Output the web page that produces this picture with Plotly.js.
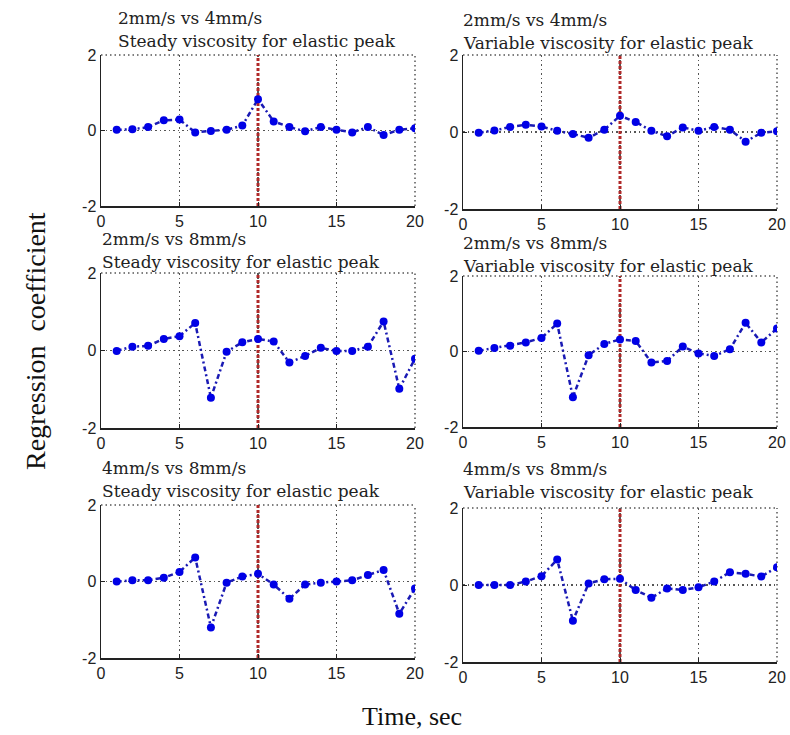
<!DOCTYPE html>
<html>
<head>
<meta charset="utf-8">
<script src="https://cdn.plot.ly/plotly-3.0.1.min.js"></script>
<style>html,body{margin:0;padding:0;background:#fff;}#chart{width:790px;height:735px;}</style>
</head>
<body>
<div id="chart"></div>
<script>
const time = [1,2,3,4,5,6,7,8,9,10,11,12,13,14,15,16,17,18,19,20];
const steady_2v4   = [0.02,0.03,0.09,0.27,0.29,-0.05,-0.01,0.02,0.13,0.83,0.24,0.09,-0.02,0.09,0.02,-0.05,0.09,-0.12,0.02,0.06];
const variable_2v4 = [-0.02,0.04,0.13,0.19,0.14,0.03,-0.05,-0.15,0.06,0.42,0.26,0.03,-0.11,0.12,0.03,0.13,0.06,-0.25,-0.02,0.02];
const steady_2v8   = [-0.01,0.10,0.12,0.30,0.37,0.71,-1.22,-0.03,0.21,0.30,0.23,-0.31,-0.14,0.07,-0.01,-0.01,0.10,0.75,-0.99,-0.21];
const variable_2v8 = [0.02,0.09,0.15,0.24,0.36,0.74,-1.21,-0.10,0.20,0.32,0.28,-0.29,-0.25,0.13,-0.05,-0.12,0.06,0.76,0.24,0.61];
const steady_4v8   = [0.00,0.03,0.03,0.10,0.25,0.63,-1.20,-0.03,0.13,0.20,-0.08,-0.45,-0.08,-0.03,0.00,0.03,0.17,0.30,-0.84,-0.18];
const variable_4v8 = [0.00,0.00,0.00,0.09,0.23,0.66,-0.93,0.04,0.15,0.16,-0.13,-0.33,-0.09,-0.13,-0.06,0.09,0.33,0.29,0.22,0.46];

const peakTime = [10,10];
const peakRange = [-2,2];

const xTicks = [0,5,10,15,20];
const xTickText = ['0','5','10','15','20'];
const yTicks = [-2,0,2];
const yTickText = ['-2','0','2'];

const comparisons = ['2mm/s vs 4mm/s','2mm/s vs 4mm/s','2mm/s vs 8mm/s','2mm/s vs 8mm/s','4mm/s vs 8mm/s','4mm/s vs 8mm/s'];
const conditions = ['Steady viscosity for elastic peak','Variable viscosity for elastic peak','Steady viscosity for elastic peak','Variable viscosity for elastic peak','Steady viscosity for elastic peak','Variable viscosity for elastic peak'];
const series = [steady_2v4, variable_2v4, steady_2v8, variable_2v8, steady_4v8, variable_4v8];

const W = 790, H = 735;
// pixel boxes [left, right, top, bottom]
const boxes = [
  [101,415,55,206],[463,777,55,209],
  [101,415,273,428],[463,777,276,427],
  [101,415,505,658],[463,777,508,662]
];
const titlePos = [[116,18],[461,20],[100,239],[461,243],[100,468],[461,469]];

const traces = [];
const layout = {
  width: W, height: H,
  margin: {l:0,r:0,t:0,b:0},
  paper_bgcolor: '#fff', plot_bgcolor: '#fff',
  showlegend: false,
  annotations: [],
  shapes: []
};
const titleFont = 'DejaVu Serif, serif';
const labelFont = 'Liberation Serif, Times New Roman, serif';
const gridDash = '1.5px,3px';
for (let i = 0; i < 6; i++) {
  const n = i === 0 ? '' : String(i+1);
  const b = boxes[i];
  const xa = 'xaxis' + n, ya = 'yaxis' + n;
  const common = {
    ticks: 'inside', ticklen: 4, tickcolor: '#222',
    showline: true, linecolor: '#222', linewidth: 1.5,
    showgrid: true, gridcolor: '#555', griddash: gridDash, gridwidth: 1.5,
    zeroline: false, tickfont: {family: 'Liberation Sans, Arial, sans-serif', size: 16, color: '#222'},
    fixedrange: true
  };
  layout[xa] = Object.assign({
    domain: [b[0]/W, b[1]/W], range: [0,20], anchor: 'y'+n,
    tickvals: xTicks, ticktext: xTickText
  }, common);
  layout[ya] = Object.assign({
    domain: [1 - b[3]/H, 1 - b[2]/H], range: [-2,2], anchor: 'x'+n,
    tickvals: yTicks, ticktext: yTickText
  }, common);
  // dotted top and right frame edges
  layout.shapes.push({type: 'line', xref: 'x'+n+' domain', yref: 'y'+n+' domain', x0: 0, x1: 1, y0: 1, y1: 1,
    line: {color: '#555', width: 1.5, dash: gridDash}, layer: 'below'});
  layout.shapes.push({type: 'line', xref: 'x'+n+' domain', yref: 'y'+n+' domain', x0: 1, x1: 1, y0: 0, y1: 1,
    line: {color: '#555', width: 1.5, dash: gridDash}, layer: 'below'});
  traces.push({
    x: peakTime, y: peakRange, xaxis: 'x'+n, yaxis: 'y'+n, mode: 'lines',
    line: {color: '#b02828', width: 3, dash: '3px,2px'}, hoverinfo: 'skip'
  });
  traces.push({
    x: time, y: series[i], xaxis: 'x'+n, yaxis: 'y'+n, mode: 'lines+markers',
    line: {color: '#1a1ab4', width: 2.5, dash: '5px,3px,2px,3px'},
    marker: {color: '#0000e6', size: 8}
  });
  const tp = titlePos[i];
  layout.annotations.push({
    text: comparisons[i], xref: 'paper', yref: 'paper', x: tp[0]/W, y: 1 - tp[1]/H,
    xanchor: 'left', yanchor: 'middle', showarrow: false,
    font: {family: titleFont, size: 17, color: '#222'}
  });
  layout.annotations.push({
    text: conditions[i], xref: 'paper', yref: 'paper', x: tp[0]/W, y: 1 - (tp[1]+23)/H,
    xanchor: 'left', yanchor: 'middle', showarrow: false,
    font: {family: titleFont, size: 17, color: '#222'}
  });
}
layout.annotations.push({
  text: 'Regression  coefficient', xref: 'paper', yref: 'paper', x: 36/W, y: 1 - 341/H,
  xanchor: 'center', yanchor: 'middle', textangle: -90, showarrow: false,
  font: {family: labelFont, size: 28, color: '#111'}
});
layout.annotations.push({
  text: 'Time, sec', xref: 'paper', yref: 'paper', x: 412/W, y: 1 - 716/H,
  xanchor: 'center', yanchor: 'middle', showarrow: false,
  font: {family: labelFont, size: 26, color: '#111'}
});
Plotly.newPlot('chart', traces, layout, {displayModeBar: false, staticPlot: true});
</script>
</body>
</html>
